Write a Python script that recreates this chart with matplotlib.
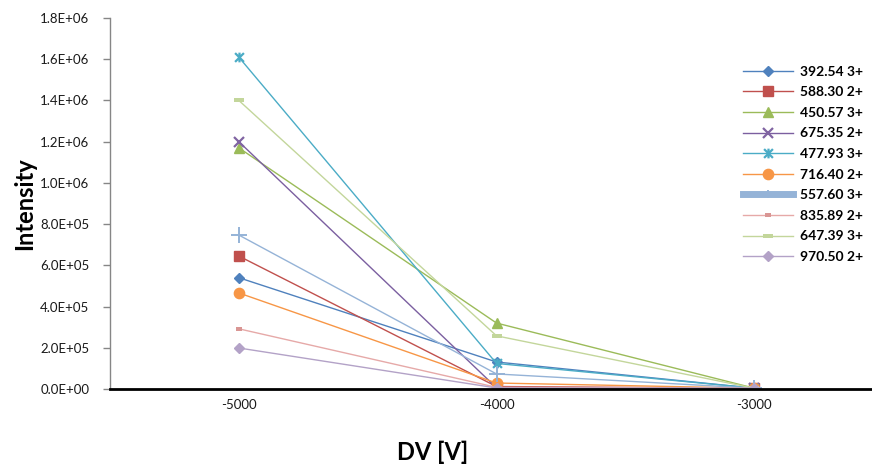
import matplotlib
matplotlib.use("Agg")
import matplotlib.pyplot as plt
from matplotlib.lines import Line2D
from matplotlib.path import Path
from matplotlib.ticker import FuncFormatter

plt.rcParams['font.family'] = ['Lato', 'DejaVu Sans']

# Deflection voltage settings
dv = [-5000, -4000, -3000]

# Precursor ions (m/z and charge) and their intensities at each voltage
labels = ["392.54 3+", "588.30 2+", "450.57 3+", "675.35 2+", "477.93 3+",
          "716.40 2+", "557.60 3+", "835.89 2+", "647.39 3+", "970.50 2+"]
s392 = [5.40e5, 1.31e5, 4.0e3]
s588 = [6.45e5, 1.2e4, 4.0e3]
s450 = [1.17e6, 3.20e5, 4.0e3]
s675 = [1.20e6, 6.0e3, 4.0e3]
s477 = [1.61e6, 1.24e5, 4.0e3]
s716 = [4.66e5, 2.9e4, 4.0e3]
s557 = [7.47e5, 7.3e4, 4.0e3]
s835 = [2.92e5, 8.0e3, 4.0e3]
s647 = [1.40e6, 2.58e5, 4.0e3]
s970 = [1.99e5, 5.0e3, 4.0e3]
series = [s392, s588, s450, s675, s477, s716, s557, s835, s647, s970]

y_ticks = [0, 2e5, 4e5, 6e5, 8e5, 1.0e6, 1.2e6, 1.4e6, 1.6e6, 1.8e6]
x_ticks = [-5000, -4000, -3000]

# Star marker: an "x" crossed by a vertical bar
star = Path([(-1, -1), (1, 1), (-1, 1), (1, -1), (0, -1.1), (0, 1.1)],
            [Path.MOVETO, Path.LINETO, Path.MOVETO, Path.LINETO,
             Path.MOVETO, Path.LINETO])


def bar_marker(w, h):
    return Path([(-w, -h), (w, -h), (w, h), (-w, h), (-w, -h)],
                [Path.MOVETO, Path.LINETO, Path.LINETO, Path.LINETO,
                 Path.CLOSEPOLY])


wide_bar = bar_marker(1.0, 0.38)
short_bar = bar_marker(1.0, 0.6)

colors = ["#4F81BD", "#C0504D", "#9BBB59", "#8064A2", "#4BACC6",
          "#F79646", "#95B3D7", "#D99694", "#C3D69B", "#B3A2C7"]
line_colors = ["#4F81BD", "#C0504D", "#9BBB59", "#7B5FA0", "#4BACC6",
               "#F79646", "#95B3D7", "#E6A9A8", "#C3D69B", "#B3A2C7"]
markers = ["D", "s", "^", "x", star, "o", "+", short_bar, wide_bar, "D"]
msizes = [5.6, 7.2, 7.0, 7.0, 7.0, 7.4, 12, 4.6, 7.6, 5.6]
mews = [1, 1, 1, 1.6, 1.6, 1, 1.4, 0, 0, 1]

fig = plt.figure(figsize=(8.72, 4.66), dpi=100)
W, H = 872, 466
ax = fig.add_axes([110 / W, (H - 389) / H, 773 / W, 371 / H])

for vals, lab, c, lc, m, ms, mew in zip(series, labels, colors, line_colors,
                                         markers, msizes, mews):
    ax.plot(dv, vals, color=lc, lw=1.0, marker=m, markersize=ms,
            markerfacecolor=c, markeredgecolor=c, markeredgewidth=mew,
            label=lab, zorder=3)

ax.set_xlim(-5500, -2500)
ax.set_ylim(0, 1.8e6)
ax.set_yticks(y_ticks)
ax.yaxis.set_major_formatter(FuncFormatter(lambda v, p: "{:.1E}".format(v)))
ax.set_xticks(x_ticks)
ax.set_xticklabels([str(v) for v in x_ticks])

for s in ["top", "right"]:
    ax.spines[s].set_visible(False)
ax.spines["left"].set_color("#868686")
ax.spines["left"].set_linewidth(1.0)
ax.spines["bottom"].set_color("black")
ax.spines["bottom"].set_linewidth(2.0)
ax.spines["bottom"].set_zorder(4)
ax.tick_params(axis="y", direction="out", length=5, width=1,
               color="#868686", labelsize=9.5, pad=10, labelcolor="#1a1a1a")
ax.tick_params(axis="x", length=0, labelsize=9.5, pad=7, labelcolor="#1a1a1a")

fig.text(25 / W, 1 - 204 / H, "Intensity", rotation=90, ha="center",
         va="center", fontsize=17, fontweight="bold")
fig.text(433 / W, 1 - 452 / H, "DV [V]", ha="center", va="center",
         fontsize=17, fontweight="bold")

# Legend with proxy handles (the 557.60 entry uses a heavy line)
handles = []
for lab, c, lc, m, ms, mew in zip(labels, colors, line_colors, markers,
                                   msizes, mews):
    lw = 1.0
    hs = min(ms, 7.4)
    if lab == "557.60 3+":
        lw, hs = 5.0, 6
    handles.append(Line2D([], [], color=lc, lw=lw, marker=m, markersize=hs,
                          markerfacecolor=c, markeredgecolor=c,
                          markeredgewidth=mew))
leg = fig.legend(handles, labels, loc="upper left",
                 bbox_to_anchor=(737 / W, 1 - 60 / H), frameon=False,
                 prop={"weight": "bold", "size": 10}, handlelength=3.6,
                 handletextpad=0.5, labelspacing=0.62, borderaxespad=0)

fig.savefig("out.png", dpi=100)
